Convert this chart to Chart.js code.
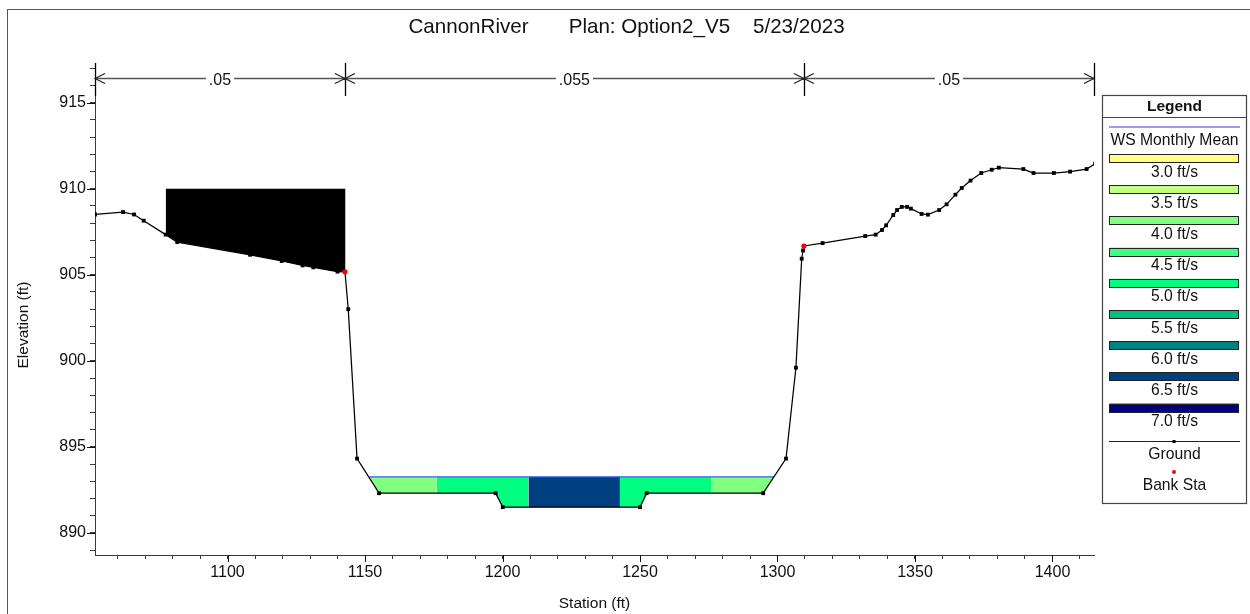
<!DOCTYPE html>
<html><head><meta charset="utf-8">
<style>html,body{margin:0;padding:0;background:#fff}#w{width:1250px;height:614px}canvas{display:block}</style>
<script src="https://cdn.jsdelivr.net/npm/chart.js@4/dist/chart.umd.min.js"></script>
</head><body><div id="w"><canvas id="c" width="1250" height="614"></canvas></div>
<script>
const FONT='"Liberation Sans", Arial, sans-serif';
const titleText='CannonRiver       Plan: Option2_V5    5/23/2023';
const xTitle='Station (ft)';
const yTitle='Elevation (ft)';
const xRange=[1051.8,1415.1];
const yRange=[888.72,917.3];
const xTicks=[1060,1070,1080,1090,1100,1110,1120,1130,1140,1150,1160,1170,1180,1190,1200,1210,1220,1230,1240,1250,1260,1270,1280,1290,1300,1310,1320,1330,1340,1350,1360,1370,1380,1390,1400,1410];
const yTicks=[889,890,891,892,893,894,895,896,897,898,899,900,901,902,903,904,905,906,907,908,909,910,911,912,913,914,915,916,917];
const groundSta=[1051.8,1062,1066,1069.5,1077.5,1081.7,1108.2,1119.7,1127.3,1131.2,1140,1142.7,1143.9,1147.1,1155.1,1197.5,1200.1,1250,1252.4,1294.8,1303.1,1306.7,1308.8,1309.3,1309.6,1316.4,1331.9,1335.7,1338,1339.5,1342.1,1343.5,1345.2,1347.1,1348.5,1352.4,1354.7,1358.8,1361.5,1364.7,1367,1370.2,1374.1,1377.9,1380.5,1389.4,1393.1,1400.5,1406.4,1412.4,1415.5];
const groundElev=[908.5,908.64,908.5,908.14,907.33,906.9,906.16,905.8,905.54,905.43,905.18,905.17,903,894.32,892.31,892.31,891.5,891.5,892.31,892.31,894.32,899.6,905.93,906.41,906.67,906.84,907.25,907.33,907.6,907.87,908.47,908.76,908.94,908.94,908.84,908.53,908.49,908.76,909.09,909.65,910.04,910.47,910.91,911.1,911.22,911.14,910.91,910.91,910.99,911.14,911.45];
const bankSta=[1142.7,1309.6];
const bankElev=[905.17,906.67];
const wsElev=893.26;
const wsSta=[1151.6,1298.7];
const blockedTop=910;
const blockedSta=[1077.5,1081.7,1108.2,1119.7,1127.3,1131.2,1140,1142.9];
const blockedElev=[907.33,906.9,906.16,905.8,905.54,905.43,905.18,905.17];
const flow1Sta=[1151.6,1155.1,1176.1];
const flow1Elev=[893.26,892.31,892.31];
const flow2Sta=[1176.1,1197.5,1200.1,1209.4];
const flow2Elev=[892.31,892.31,891.5,891.5];
const flow3Sta=[1209.4,1242.7];
const flow3Elev=[891.5,891.5];
const flow4Sta=[1242.7,1250,1252.4,1276];
const flow4Elev=[891.5,891.5,892.31,892.31];
const flow5Sta=[1276,1294.8,1298.7];
const flow5Elev=[892.31,892.31,893.26];
const roughSta=[1051.8,1142.7,1309.6,1415.1];
const roughVal=['.05','.055','.05'];
const legendSpeeds=['3.0 ft/s','3.5 ft/s','4.0 ft/s','4.5 ft/s','5.0 ft/s','5.5 ft/s','6.0 ft/s','6.5 ft/s','7.0 ft/s'];
const legendColors=['#FFFF80','#C0FF80','#80FF80','#40FF80','#00FF80','#00C080','#008080','#004080','#000080'];
const C4='#80FF80',C5='#00FF80',C65='#004080';

const zip=(a,b)=>a.map((v,i)=>({x:v,y:b[i]}));
const fillSet=(s,e,c,v)=>({data:zip(s,e),showLine:true,borderWidth:0,borderColor:'transparent',pointRadius:0,backgroundColor:c,fill:{value:v}});
const roughElev=916.4;
const datasets=[
 {label:'Bank Sta',data:zip(bankSta,bankElev),showLine:false,pointStyle:'circle',pointRadius:2.6,pointBackgroundColor:'#ff0000',pointBorderWidth:0},
 {label:'Ground',data:zip(groundSta,groundElev),showLine:true,borderColor:'#000',borderWidth:1.25,pointStyle:'rect',pointRadius:2.7,pointBackgroundColor:'#000',pointBorderWidth:0,fill:false,tension:0},
 {label:'WS',data:zip(wsSta,[wsElev,wsElev]),showLine:true,borderColor:'#3f5fe8',borderWidth:1.2,pointRadius:0,fill:false},
 fillSet(blockedSta,blockedElev,'#000',blockedTop),
 fillSet(flow1Sta,flow1Elev,C4,wsElev),
 fillSet(flow2Sta,flow2Elev,C5,wsElev),
 fillSet(flow3Sta,flow3Elev,C65,wsElev),
 fillSet(flow4Sta,flow4Elev,C5,wsElev),
 fillSet(flow5Sta,flow5Elev,C4,wsElev)
];
const AX='#3a3a3a';
const overlay={id:'overlay',
 beforeDraw(ch){const g=ch.ctx;g.save();g.strokeStyle='#555';g.lineWidth=1;g.strokeRect(7.5,9.5,1300,700);g.restore();},
 afterDraw(ch){
  const g=ch.ctx,xs=ch.scales.x,ys=ch.scales.y;
  g.save();
  g.textAlign='center';g.textBaseline='middle';
  // title and y-axis title
  g.fillStyle='#111';g.font='20.6px '+FONT;g.fillText(titleText,626.5,27);
  g.save();g.translate(24,325);g.rotate(-Math.PI/2);g.font='15.5px '+FONT;g.fillText(yTitle,0,0);g.restore();
  // longer major ticks
  g.strokeStyle='#111';g.lineWidth=1;g.beginPath();
  xTicks.filter(v=>v%50===0).forEach(v=>{const p=Math.round(xs.getPixelForValue(v))+.5;g.moveTo(p,ch.chartArea.bottom);g.lineTo(p,ch.chartArea.bottom+7);});
  yTicks.filter(v=>v%5===0).forEach(v=>{const p=Math.round(ys.getPixelForValue(v))+.5;g.moveTo(ch.chartArea.left-8,p);g.lineTo(ch.chartArea.left,p);});
  g.stroke();
  // Manning's n divisions
  const ry=ys.getPixelForValue(roughElev);
  const px=roughSta.map(v=>xs.getPixelForValue(v));
  g.strokeStyle='#555';g.lineWidth=1.6;g.beginPath();
  g.moveTo(px[0],ry);g.lineTo(px[3],ry);g.stroke();
  g.strokeStyle='#000';g.lineWidth=1.3;g.beginPath();
  px.forEach(p=>{const q=Math.round(p)+.5;g.moveTo(q,ch.chartArea.top);g.lineTo(q,ch.chartArea.top+33);});
  g.stroke();
  g.strokeStyle='#222';g.lineWidth=1.2;g.beginPath();
  px.forEach((p,i)=>{
   if(i<3){g.moveTo(p+10,ry-5);g.lineTo(p,ry);g.lineTo(p+10,ry+5);}
   if(i>0){g.moveTo(p-10,ry-5);g.lineTo(p,ry);g.lineTo(p-10,ry+5);}
  });
  g.stroke();
  g.font='16px '+FONT;
  roughVal.forEach((t,i)=>{
   const m=(px[i]+px[i+1])/2,w=g.measureText(t).width+6;
   g.fillStyle='#fff';g.fillRect(m-w/2,ry-9,w,18);
   g.fillStyle='#111';g.fillText(t,m,ry+2);
  });
  // legend
  const L=1102.5,R=1246.5,T=95.5,B=503.5,cx=(L+R)/2;
  g.fillStyle='#fff';g.fillRect(L,T,R-L,B-T);
  g.strokeStyle='#444';g.lineWidth=1.2;g.strokeRect(L,T,R-L,B-T);
  g.beginPath();g.moveTo(L,117.5);g.lineTo(R,117.5);g.stroke();
  g.fillStyle='#111';g.font='bold 15.5px '+FONT;g.fillText('Legend',cx,106.5);
  g.font='15.7px '+FONT;
  g.strokeStyle='#7878f0';g.lineWidth=1.5;g.beginPath();g.moveTo(1109,127);g.lineTo(1240,127);g.stroke();
  g.fillStyle='#111';g.fillText('WS Monthly Mean',cx,140.5);
  legendSpeeds.forEach((t,i)=>{
   const y=154+i*31.2;
   g.fillStyle=legendColors[i];g.fillRect(1109.5,y,129,8.5);
   g.strokeStyle='#222';g.lineWidth=1;g.strokeRect(1109.5,Math.round(y)+.5,129,8);
   g.fillStyle='#111';g.fillText(t,cx,172.2+i*31.2);
  });
  g.strokeStyle='#222';g.lineWidth=1;g.beginPath();g.moveTo(1109,441.5);g.lineTo(1240,441.5);g.stroke();
  g.fillStyle='#000';g.fillRect(1172.5,440,3,3);
  g.fillStyle='#111';g.fillText('Ground',cx,454.5);
  g.fillStyle='#f00';g.beginPath();g.arc(1174,472,2,0,7);g.fill();
  g.fillStyle='#111';g.fillText('Bank Sta',cx,486);
  g.restore();
 }};
new Chart(document.getElementById('c'),{
 type:'scatter',
 data:{datasets},
 plugins:[overlay],
 options:{
  responsive:false,animation:false,devicePixelRatio:1,
  layout:{padding:{left:0,right:156,top:63,bottom:0}},
  plugins:{legend:{display:false},tooltip:{enabled:false},title:{display:false}},
  scales:{
   x:{type:'linear',min:xRange[0],max:xRange[1],
    afterBuildTicks(a){a.ticks=xTicks.map(v=>({value:v}));},
    afterFit(a){a.height=59;},
    grid:{drawOnChartArea:false,tickLength:4,tickColor:AX,drawTicks:true},
    border:{color:AX,width:1},
    ticks:{autoSkip:false,maxRotation:0,padding:4,color:'#111',font:{family:FONT,size:16},callback:v=>v%50===0?String(v):''},
    title:{display:true,text:xTitle,color:'#111',font:{family:FONT,size:15.5},padding:{top:0,bottom:1}}},
   y:{type:'linear',min:yRange[0],max:yRange[1],
    afterBuildTicks(a){a.ticks=yTicks.map(v=>({value:v}));},
    afterFit(a){a.width=95;},
    grid:{drawOnChartArea:false,tickLength:5,tickColor:AX},
    border:{color:AX,width:1},
    ticks:{autoSkip:false,padding:4,color:'#111',font:{family:FONT,size:16},callback:v=>v%5===0?String(v):''}}
  }
 }
});
</script></body></html>
